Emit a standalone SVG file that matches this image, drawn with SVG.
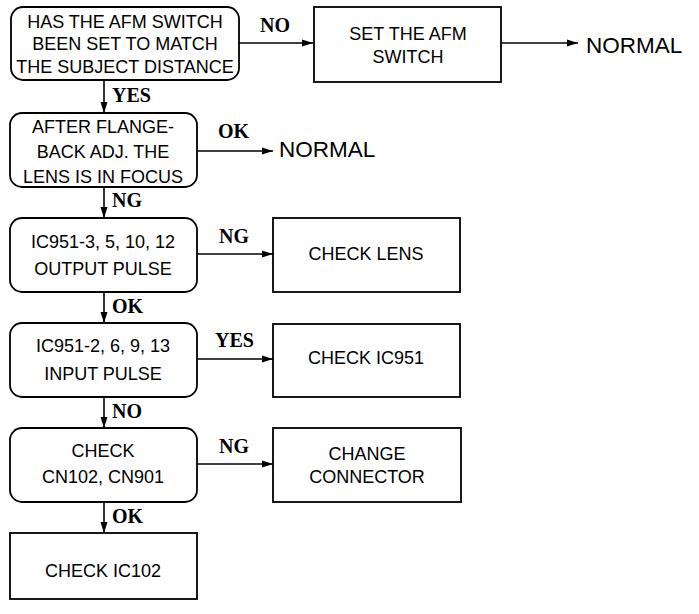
<svg xmlns="http://www.w3.org/2000/svg" width="699" height="614" viewBox="0 0 699 614">
<style>
.box{fill:#fff;stroke:#000;stroke-width:1.8}
.t{font-family:"Liberation Sans",Arial,sans-serif;font-size:18px;text-anchor:middle;fill:#000}
.big{font-family:"Liberation Sans",Arial,sans-serif;font-size:22.5px;fill:#000}
.lbl{font-family:"Liberation Serif","Times New Roman",serif;font-weight:bold;font-size:20px;fill:#000}
.c{fill:none;stroke:#000;stroke-width:1.6}
</style>
<defs>
<marker id="ah" markerUnits="userSpaceOnUse" markerWidth="12" markerHeight="8" refX="11" refY="4" orient="auto">
<path d="M0,0.5 L11,4 L0,7.5 z" fill="#000"/>
</marker>
</defs>
<g id="connectors">
<line class="c" x1="239" y1="43" x2="313" y2="43" marker-end="url(#ah)"/>
<line class="c" x1="501" y1="43" x2="578" y2="43" marker-end="url(#ah)"/>
<line class="c" x1="104" y1="80" x2="104" y2="113" marker-end="url(#ah)"/>
<line class="c" x1="197" y1="151" x2="273" y2="151" marker-end="url(#ah)"/>
<line class="c" x1="104" y1="187" x2="104" y2="218" marker-end="url(#ah)"/>
<line class="c" x1="197" y1="254" x2="273" y2="254" marker-end="url(#ah)"/>
<line class="c" x1="104" y1="292" x2="104" y2="323" marker-end="url(#ah)"/>
<line class="c" x1="197" y1="359" x2="273" y2="359" marker-end="url(#ah)"/>
<line class="c" x1="104" y1="397" x2="104" y2="428" marker-end="url(#ah)"/>
<line class="c" x1="197" y1="464" x2="273" y2="464" marker-end="url(#ah)"/>
<line class="c" x1="104" y1="502" x2="104" y2="533" marker-end="url(#ah)"/>
<text class="lbl" x="260" y="32">NO</text>
<text class="lbl" x="112" y="102">YES</text>
<text class="lbl" x="218" y="138">OK</text>
<text class="lbl" x="112" y="207">NG</text>
<text class="lbl" x="219" y="243">NG</text>
<text class="lbl" x="112" y="313">OK</text>
<text class="lbl" x="215" y="347">YES</text>
<text class="lbl" x="112" y="418">NO</text>
<text class="lbl" x="219" y="453">NG</text>
<text class="lbl" x="112" y="523">OK</text>
</g>
<g id="q1">
<rect class="box" x="11" y="7" width="228" height="73" rx="12"/>
<text class="t" x="125" y="28">HAS THE AFM SWITCH</text>
<text class="t" x="125" y="50">BEEN SET TO MATCH</text>
<text class="t" x="125" y="73">THE SUBJECT DISTANCE</text>
</g>
<g id="setafm">
<rect class="box" x="314" y="7" width="187" height="75"/>
<text class="t" x="408" y="40">SET THE AFM</text>
<text class="t" x="408" y="63">SWITCH</text>
</g>
<g id="normal1"><text class="big" x="586" y="53">NORMAL</text></g>
<g id="q2">
<rect class="box" x="10" y="113" width="187" height="74" rx="12"/>
<text class="t" x="103" y="133">AFTER FLANGE-</text>
<text class="t" x="103" y="158">BACK ADJ. THE</text>
<text class="t" x="103" y="183">LENS IS IN FOCUS</text>
</g>
<g id="normal2"><text class="big" x="279" y="157">NORMAL</text></g>
<g id="q3">
<rect class="box" x="10" y="218" width="187" height="74" rx="12"/>
<text class="t" x="103" y="248">IC951-3, 5, 10, 12</text>
<text class="t" x="103" y="275">OUTPUT PULSE</text>
</g>
<g id="checklens">
<rect class="box" x="273" y="218" width="187" height="74"/>
<text class="t" x="366" y="260">CHECK LENS</text>
</g>
<g id="q4">
<rect class="box" x="10" y="323" width="187" height="74" rx="12"/>
<text class="t" x="103" y="352">IC951-2, 6, 9, 13</text>
<text class="t" x="103" y="380">INPUT PULSE</text>
</g>
<g id="checkic951">
<rect class="box" x="273" y="324" width="187" height="73"/>
<text class="t" x="366" y="364">CHECK IC951</text>
</g>
<g id="q5">
<rect class="box" x="10" y="428" width="187" height="74" rx="12"/>
<text class="t" x="103" y="457">CHECK</text>
<text class="t" x="103" y="483">CN102, CN901</text>
</g>
<g id="changeconn">
<rect class="box" x="273" y="428" width="188" height="74"/>
<text class="t" x="367" y="460">CHANGE</text>
<text class="t" x="367" y="483">CONNECTOR</text>
</g>
<g id="checkic102">
<rect class="box" x="10" y="533" width="187" height="66"/>
<text class="t" x="103" y="577">CHECK IC102</text>
</g>
</svg>
